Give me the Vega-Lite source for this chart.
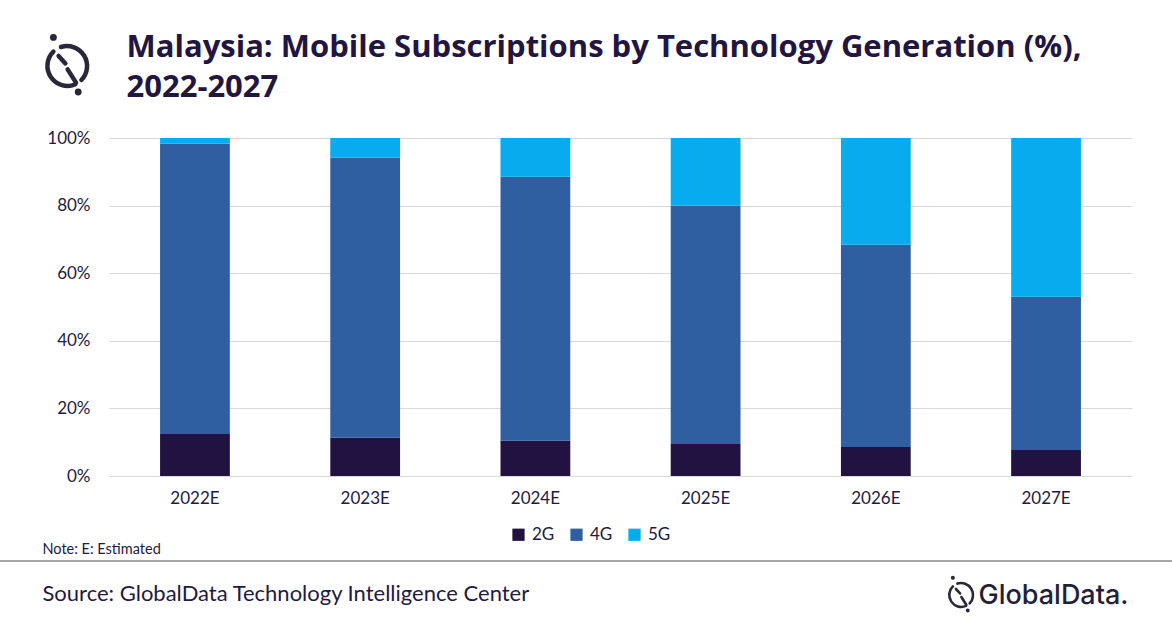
{
  "$schema": "https://vega.github.io/schema/vega-lite/v6.json",
  "width": 1023,
  "height": 338,
  "autosize": {"type": "none"},
  "padding": {"left": 109, "top": 138, "right": 40, "bottom": 152},
  "background": "white",
  "config": {"view": {"stroke": null}, "font": "Lato"},
  "layer": [
    {
      "data": {
        "values": [
          {"year": "2022E", "tech": "2G", "share": 12.4},
          {"year": "2022E", "tech": "4G", "share": 85.9},
          {"year": "2022E", "tech": "5G", "share": 1.7},
          {"year": "2023E", "tech": "2G", "share": 11.3},
          {"year": "2023E", "tech": "4G", "share": 82.9},
          {"year": "2023E", "tech": "5G", "share": 5.8},
          {"year": "2024E", "tech": "2G", "share": 10.4},
          {"year": "2024E", "tech": "4G", "share": 78.1},
          {"year": "2024E", "tech": "5G", "share": 11.5},
          {"year": "2025E", "tech": "2G", "share": 9.5},
          {"year": "2025E", "tech": "4G", "share": 70.5},
          {"year": "2025E", "tech": "5G", "share": 20.0},
          {"year": "2026E", "tech": "2G", "share": 8.6},
          {"year": "2026E", "tech": "4G", "share": 59.8},
          {"year": "2026E", "tech": "5G", "share": 31.6},
          {"year": "2027E", "tech": "2G", "share": 7.7},
          {"year": "2027E", "tech": "4G", "share": 45.3},
          {"year": "2027E", "tech": "5G", "share": 47.0}
        ]
      },
      "mark": {"type": "bar"},
      "encoding": {
        "x": {
          "field": "year",
          "type": "nominal",
          "sort": null,
          "scale": {"paddingInner": 0.59, "paddingOuter": 0.3},
          "axis": {
            "title": "Note: E: Estimated",
            "titleX": -67,
            "titleY": 73,
            "titleAlign": "left",
            "titleBaseline": "middle",
            "titleFontSize": 14.5,
            "titleFontWeight": "normal",
            "titleColor": "#221a40",
            "labelAngle": 0,
            "labelFontSize": 17,
            "labelColor": "#221a40",
            "labelPadding": 14,
            "ticks": false,
            "domain": false,
            "grid": false
          }
        },
        "y": {
          "field": "share",
          "type": "quantitative",
          "stack": "zero",
          "scale": {"domain": [0, 100]},
          "axis": {
            "values": [0, 20, 40, 60, 80, 100],
            "labelExpr": "datum.value + '%'",
            "labelFontSize": 17,
            "labelColor": "#221a40",
            "labelPadding": 19,
            "ticks": false,
            "domain": false,
            "gridColor": "#d9d9d9",
            "title": "Source: GlobalData Technology Intelligence Center",
            "titleAngle": 0,
            "titleX": -67,
            "titleY": 455,
            "titleAlign": "left",
            "titleBaseline": "middle",
            "titleFontSize": 22,
            "titleFontWeight": "normal",
            "titleColor": "#221a40"
          }
        },
        "color": {
          "field": "tech",
          "type": "nominal",
          "scale": {"domain": ["2G", "4G", "5G"], "range": ["#221241", "#2f5fa0", "#06acee"]},
          "legend": {
            "title": null,
            "orient": "none",
            "legendX": 401,
            "legendY": 388,
            "direction": "horizontal",
            "symbolType": "square",
            "symbolSize": 150,
            "symbolStrokeWidth": 0,
            "labelFontSize": 17,
            "labelColor": "#221a40",
            "columnPadding": 13,
            "labelOffset": 5
          }
        },
        "order": {"field": "tech", "sort": "ascending"}
      }
    },
    {
      "layer": [
        {
          "data": {"values": [{"item": "separator"}]},
          "mark": {"type": "rule", "color": "#a6a6a6", "strokeWidth": 2},
          "encoding": {
            "x": {
              "datum": -109,
              "type": "quantitative",
              "scale": {"domain": [0, 1023], "nice": false, "zero": false},
              "axis": {
                "orient": "top",
                "labels": false,
                "ticks": false,
                "domain": false,
                "grid": false,
                "title": ["Malaysia: Mobile Subscriptions by Technology Generation (%),", "2022-2027"],
                "titleAngle": 0,
                "titleX": 17,
                "titleY": -82,
                "titleAlign": "left",
                "titleBaseline": "alphabetic",
                "titleLineHeight": 40,
                "titleFont": "Open Sans",
                "titleFontSize": 31,
                "titleFontWeight": "bold",
                "titleColor": "#22163f"
              }
            },
            "x2": {"datum": 1063},
            "y": {
              "datum": 423,
              "type": "quantitative",
              "scale": {"domain": [0, 338], "reverse": true, "nice": false, "zero": false},
              "axis": {
                "orient": "right",
                "labels": false,
                "ticks": false,
                "domain": false,
                "grid": false,
                "title": "GlobalData.",
                "titleAngle": 0,
                "titleX": -154,
                "titleY": 457,
                "titleAlign": "left",
                "titleBaseline": "middle",
                "titleFont": "Inter",
                "titleFontSize": 27,
                "titleFontWeight": 500,
                "titleColor": "#231f3a"
              }
            }
          }
        },
        {
          "data": {"values": [{"item": "logo-top"}]},
          "mark": {
            "type": "point",
            "filled": false,
            "shape": "M -0.68 -0.72 A 1 1 0 0 0 0.42 0.91 M -0.3 -0.95 A 1 1 0 0 1 0.72 0.7 M -0.42 -0.5 L -0.08 -0.13 M 0.03 0.17 L 0.45 0.83 M -0.74 -1.43 a 0.06 0.06 0 1 0 0.12 0 a 0.06 0.06 0 1 0 -0.12 0 M 0.5 1.3 a 0.06 0.06 0 1 0 0.12 0 a 0.06 0.06 0 1 0 -0.12 0",
            "size": 1600,
            "stroke": "#2a2838",
            "strokeWidth": 4.5,
            "strokeCap": "round",
            "opacity": 1
          },
          "encoding": {
            "x": {"datum": -42, "type": "quantitative"},
            "y": {"datum": -72, "type": "quantitative"}
          }
        },
        {
          "data": {"values": [{"item": "logo-bottom"}]},
          "mark": {
            "type": "point",
            "filled": false,
            "shape": "M -0.68 -0.72 A 1 1 0 0 0 0.42 0.91 M -0.3 -0.95 A 1 1 0 0 1 0.72 0.7 M -0.42 -0.5 L -0.08 -0.13 M 0.03 0.17 L 0.45 0.83 M -0.74 -1.43 a 0.06 0.06 0 1 0 0.12 0 a 0.06 0.06 0 1 0 -0.12 0 M 0.5 1.3 a 0.06 0.06 0 1 0 0.12 0 a 0.06 0.06 0 1 0 -0.12 0",
            "size": 576,
            "stroke": "#2a2838",
            "strokeWidth": 2.6,
            "strokeCap": "round",
            "opacity": 1
          },
          "encoding": {
            "x": {"datum": 852, "type": "quantitative"},
            "y": {"datum": 457, "type": "quantitative"}
          }
        }
      ]
    }
  ],
  "resolve": {"scale": {"x": "independent", "y": "independent"}}
}
